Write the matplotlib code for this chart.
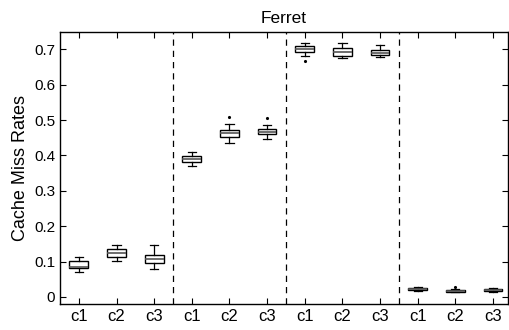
import matplotlib
matplotlib.use("Agg")
import matplotlib.pyplot as plt

plt.rcParams['font.family'] = ['Liberation Sans', 'DejaVu Sans']

title = "Ferret"
ylabel = "Cache Miss Rates"
labels = ["c1", "c2", "c3"] * 4

# box statistics per configuration (4 groups x 3 configs)
whislo = [0.070, 0.101, 0.079, 0.370, 0.435, 0.447, 0.680, 0.675, 0.677, 0.016, 0.013, 0.014]
q1     = [0.081, 0.113, 0.095, 0.382, 0.452, 0.460, 0.692, 0.681, 0.683, 0.018, 0.015, 0.016]
med    = [0.085, 0.124, 0.107, 0.390, 0.463, 0.467, 0.701, 0.692, 0.690, 0.021, 0.017, 0.018]
q3     = [0.102, 0.134, 0.117, 0.397, 0.473, 0.476, 0.710, 0.703, 0.697, 0.024, 0.019, 0.021]
whishi = [0.113, 0.146, 0.148, 0.410, 0.490, 0.486, 0.717, 0.717, 0.711, 0.027, 0.022, 0.024]
fliers = [[], [], [], [], [0.510], [0.507], [0.668], [], [], [], [0.028], []]

separators = [3.5, 6.5, 9.5]

stats = []
for i in range(len(labels)):
    stats.append(dict(whislo=whislo[i], q1=q1[i], med=med[i], q3=q3[i],
                      whishi=whishi[i], fliers=fliers[i], label=labels[i]))

fig = plt.figure(figsize=(5.09, 3.30), dpi=100)
ax = fig.add_axes([0.118, 0.079, 0.880, 0.825])

positions = list(range(1, len(labels) + 1))
ax.bxp(stats, positions=positions, widths=0.5, capwidths=0.22,
       patch_artist=True, manage_ticks=False,
       boxprops=dict(facecolor='white', edgecolor='black', linewidth=1.0),
       medianprops=dict(color='#555555', linewidth=1.2),
       whiskerprops=dict(color='black', linewidth=0.9),
       capprops=dict(color='black', linewidth=0.9),
       flierprops=dict(marker='.', markersize=2.5, markerfacecolor='black',
                       markeredgecolor='black', linestyle='none'))

for s in separators:
    ax.axvline(s, color='black', linestyle=(0, (5, 4)), linewidth=0.9)

ax.set_xlim(0.5, 12.4)
ax.set_ylim(-0.02, 0.75)
ax.set_xticks(positions)
ax.set_xticklabels(labels, fontsize=12)
ax.set_yticks([0, 0.1, 0.2, 0.3, 0.4, 0.5, 0.6, 0.7])
ax.set_yticklabels(["0", "0.1", "0.2", "0.3", "0.4", "0.5", "0.6", "0.7"], fontsize=11)
ax.tick_params(direction='in', top=True, right=True, length=4, width=0.8)
ax.set_ylabel(ylabel, fontsize=13)
ax.set_title(title, fontsize=12.5, pad=6)
for sp in ax.spines.values():
    sp.set_linewidth(1.0)

fig.savefig("out.png", dpi=100)
